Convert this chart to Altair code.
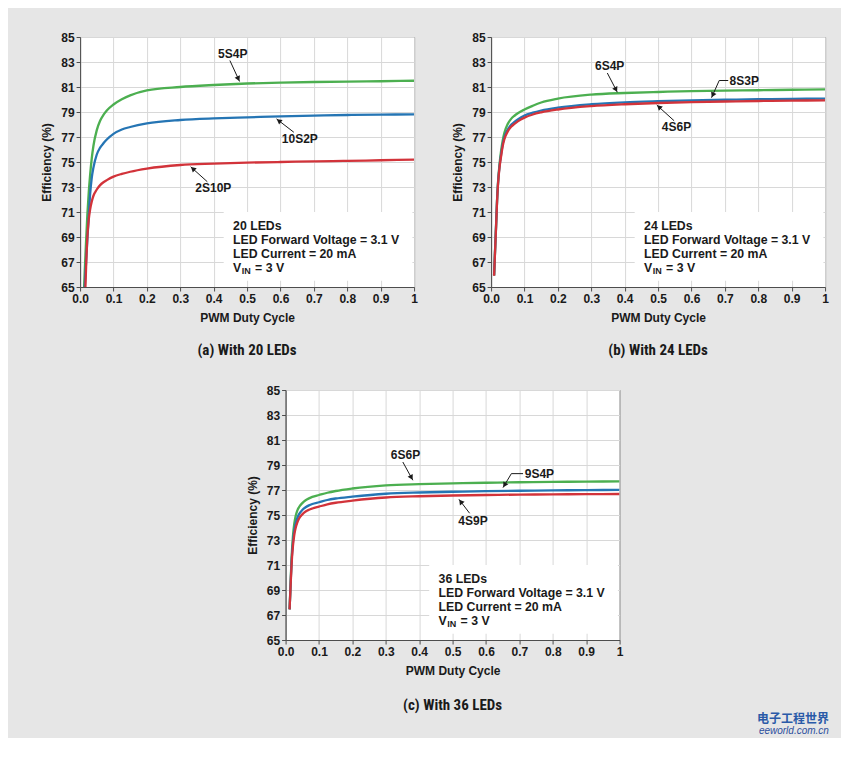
import math
import altair as alt
import pandas as pd

# ---------------- data ----------------
A_D = [0.012, 0.014, 0.016, 0.018, 0.022, 0.026, 0.03, 0.035, 0.04, 0.05, 0.06, 0.07,
       0.08, 0.1, 0.125, 0.15, 0.2, 0.3, 0.4, 0.5, 0.6, 0.7, 0.8, 0.9, 1.0]
A_5S4P = [65.0, 66.3, 67.5, 68.7, 70.9, 72.6, 73.95, 75.3, 76.3, 77.55, 78.3, 78.77,
          79.12, 79.6, 80.02, 80.33, 80.73, 81.0, 81.16, 81.28, 81.35, 81.4, 81.43, 81.46, 81.5]
A_10S2P = [None, 65.0, 66.0, 67.0, 68.9, 70.65, 72.4, 73.75, 74.55, 75.6, 76.15, 76.5,
           76.8, 77.25, 77.6, 77.8, 78.09, 78.36, 78.49, 78.57, 78.65, 78.71, 78.76, 78.79, 78.81]
A_2S10P = [None, None, 65.0, 66.6, 69.1, 70.4, 71.2, 71.85, 72.3, 72.8, 73.15, 73.38,
           73.55, 73.83, 74.05, 74.22, 74.47, 74.76, 74.87, 74.95, 75.0, 75.05, 75.09, 75.14, 75.19]

B_D = [0.009, 0.012, 0.015, 0.018, 0.021, 0.025, 0.03, 0.035, 0.04, 0.05, 0.06, 0.07,
       0.08, 0.1, 0.125, 0.15, 0.2, 0.3, 0.4, 0.5, 0.6, 0.7, 0.8, 0.9, 1.0]
B_6S4P = [65.93, 68.0, 69.95, 72.0, 73.45, 74.75, 75.9, 76.75, 77.35, 78.05, 78.45, 78.7,
          78.9, 79.2, 79.5, 79.76, 80.07, 80.39, 80.52, 80.6, 80.67, 80.71, 80.74, 80.78, 80.81]
B_8S3P = [65.93, 68.0, 69.95, 72.0, 73.4, 74.6, 75.6, 76.45, 77.0, 77.6, 77.97, 78.2,
          78.4, 78.72, 78.95, 79.12, 79.35, 79.62, 79.77, 79.86, 79.93, 79.98, 80.02, 80.05, 80.07]
B_4S6P = [65.9, 67.9, 69.85, 71.9, 73.3, 74.5, 75.45, 76.3, 76.85, 77.45, 77.82, 78.05,
          78.25, 78.55, 78.8, 78.97, 79.2, 79.47, 79.62, 79.72, 79.79, 79.84, 79.88, 79.91, 79.93]

C_D = [0.012, 0.015, 0.018, 0.022, 0.026, 0.03, 0.035, 0.04, 0.05, 0.06, 0.07, 0.08,
       0.1, 0.125, 0.15, 0.2, 0.3, 0.4, 0.5, 0.6, 0.7, 0.8, 0.9, 1.0]
C_6S6P = [67.45, 69.6, 71.6, 73.3, 74.3, 74.9, 75.35, 75.62, 75.95, 76.18, 76.33, 76.45,
          76.6, 76.78, 76.92, 77.12, 77.37, 77.47, 77.53, 77.58, 77.62, 77.65, 77.67, 77.69]
C_9S4P = [67.45, 69.45, 71.3, 72.8, 73.75, 74.3, 74.75, 75.05, 75.4, 75.62, 75.77, 75.88,
          76.02, 76.2, 76.32, 76.47, 76.7, 76.8, 76.86, 76.91, 76.94, 76.97, 76.99, 77.01]
C_4S9P = [67.45, 69.3, 71.05, 72.5, 73.4, 73.95, 74.4, 74.7, 75.05, 75.28, 75.42, 75.52,
          75.67, 75.85, 75.98, 76.15, 76.4, 76.5, 76.56, 76.6, 76.63, 76.65, 76.67, 76.68]

# annotation labels (data coordinates)
A_LABELS = ["5S4P", "10S2P", "2S10P"]
A_LABEL_X = [0.457, 0.658, 0.399]
A_LABEL_Y = [83.66, 76.84, 72.89]
A_ARROW_FROM = [(0.4485, 83.12), (0.640, 77.38), (0.381, 73.42)]
A_ARROW_TO = [(0.4775, 81.44), (0.588, 78.45), (0.331, 74.62)]
A_ALIGN = ["center", "center", "center"]
A_DASH = []

B_LABELS = ["6S4P", "8S3P", "4S6P"]
B_LABEL_X = [0.355, 0.714, 0.555]
B_LABEL_Y = [82.7, 81.52, 77.78]
B_ARROW_FROM = [(0.348, 82.12), (0.683, 81.52), (0.548, 78.3)]
B_ARROW_TO = [(0.378, 80.58), (0.660, 80.14), (0.496, 79.56)]
B_ALIGN = ["center", "left", "center"]
B_DASH = [((0.683, 81.52), (0.710, 81.52))]

C_LABELS = ["6S6P", "9S4P", "4S9P"]
C_LABEL_X = [0.359, 0.716, 0.561]
C_LABEL_Y = [79.83, 78.31, 74.52]
C_ARROW_FROM = [(0.351, 79.24), (0.676, 78.31), (0.551, 75.14)]
C_ARROW_TO = [(0.381, 77.78), (0.651, 77.19), (0.519, 76.26)]
C_ALIGN = ["center", "left", "center"]
C_DASH = [((0.676, 78.31), (0.711, 78.31))]

INFO_X = 0.458
INFO_LINES = ["LED Forward Voltage = 3.1 V", "LED Current = 20 mA"]
INFO_Y = [69.85, 68.75, 67.63, 66.55]
BOX = (0.43, 0.995, 65.5, 71.0)

X_TICKS = [0.0, 0.1, 0.2, 0.3, 0.4, 0.5, 0.6, 0.7, 0.8, 0.9, 1.0]
Y_TICKS = [65, 67, 69, 71, 73, 75, 77, 79, 81, 83, 85]

# ---------------- styling ----------------
FONT = "Liberation Sans, Arial, Helvetica, sans-serif"
CAP_FONT = "Roboto Condensed, Liberation Sans Narrow, Arial Narrow, Liberation Sans, sans-serif"
GREEN, BLUE, RED = "#4caf50", "#2575b4", "#d2333a"
INK = "#1a1a1a"
W, H = 334, 250
INFO_SIZE = 12.3

XSCALE = alt.Scale(domain=[0, 1], nice=False, zero=False)
YSCALE = alt.Scale(domain=[65, 85], nice=False, zero=False)
XAXIS = alt.Axis(values=X_TICKS, title="PWM Duty Cycle", labelFlush=False, labelOverlap=False,
                 labelExpr="datum.value == 1 ? '1' : format(datum.value, '.1f')")
YAXIS = alt.Axis(values=Y_TICKS, title="Efficiency (%)", labelOverlap=False)


def X(f):
    return alt.X(f"{f}:Q", scale=XSCALE, axis=XAXIS)


def Y(f):
    return alt.Y(f"{f}:Q", scale=YSCALE, axis=YAXIS)


def panel(n_leds, D, series, labels, lx, ly, afrom, ato, aligns, dashes, caption, cap_offset):
    layers = []
    # white box behind info text
    box = pd.DataFrame([{"bx0": BOX[0], "bx1": BOX[1], "by0": BOX[2], "by1": BOX[3]}])
    layers.append(alt.Chart(box).mark_rect(color="white").encode(
        x=X("bx0"), x2="bx1", y=Y("by0"), y2="by1"))
    # curves
    for name, vals, col in series:
        df = pd.DataFrame({"D": D, "v": vals}).dropna()
        layers.append(alt.Chart(df).mark_line(color=col, strokeWidth=2.3,
                                              interpolate="monotone", clip=True)
                      .encode(x=X("D"), y=Y("v")))
    # arrows
    segs = [{"x0": a[0], "y0": a[1], "x1": b[0], "y1": b[1]} for a, b in zip(afrom, ato)]
    segs += [{"x0": a[0], "y0": a[1], "x1": b[0], "y1": b[1]} for a, b in dashes]
    layers.append(alt.Chart(pd.DataFrame(segs)).mark_rule(color=INK, strokeWidth=1).encode(
        x=X("x0"), y=Y("y0"), x2="x1", y2="y1"))
    heads = []
    for a, b in zip(afrom, ato):
        dx = (b[0] - a[0]) * W
        dy = -(b[1] - a[1]) * (H / 20.0)
        L = math.hypot(dx, dy)
        ang = math.degrees(math.atan2(dx, -dy)) % 360
        back = 3.0
        hx = b[0] - (dx / L) * back / W
        hy = b[1] + (dy / L) * back / (H / 20.0)
        heads.append({"hx": hx, "hy": hy, "ang": ang})
    layers.append(alt.Chart(pd.DataFrame(heads)).mark_point(
        shape="triangle-up", filled=True, size=34, color=INK, opacity=1, strokeWidth=0).encode(
        x=X("hx"), y=Y("hy"), angle=alt.Angle("ang:Q", scale=None)))
    # series labels
    for align in ("center", "left"):
        rows = [{"t": t, "lx": x, "ly": y} for t, x, y, al in zip(labels, lx, ly, aligns) if al == align]
        if rows:
            layers.append(alt.Chart(pd.DataFrame(rows)).mark_text(
                align=align, baseline="middle", font=FONT, fontSize=12, fontWeight="bold",
                color=INK).encode(x=X("lx"), y=Y("ly"), text="t:N"))
    # info text
    info = pd.DataFrame({"t": [f"{n_leds} LEDs"] + INFO_LINES,
                         "ix": [INFO_X] * 3, "iy": INFO_Y[:3]})
    layers.append(alt.Chart(info).mark_text(
        align="left", baseline="middle", font=FONT, fontSize=INFO_SIZE, fontWeight="bold",
        color=INK).encode(x=X("ix"), y=Y("iy"), text="t:N"))
    vin = pd.DataFrame({"ix": [INFO_X], "iy": [INFO_Y[3]]})
    base = alt.Chart(vin)
    layers.append(base.mark_text(text="V", align="left", baseline="middle", font=FONT,
                                 fontSize=INFO_SIZE, fontWeight="bold", color=INK)
                  .encode(x=X("ix"), y=Y("iy")))
    layers.append(base.mark_text(text="IN", align="left", baseline="middle", font=FONT,
                                 fontSize=9, fontWeight="bold", color=INK, dx=8.7, dy=3)
                  .encode(x=X("ix"), y=Y("iy")))
    layers.append(base.mark_text(text="= 3 V", align="left", baseline="middle", font=FONT,
                                 fontSize=INFO_SIZE, fontWeight="bold", color=INK, dx=22)
                  .encode(x=X("ix"), y=Y("iy")))
    return alt.layer(*layers).properties(
        width=W, height=H,
        title=alt.TitleParams(caption, orient="bottom", font=CAP_FONT, fontSize=15,
                              fontWeight="bold", color=INK, offset=cap_offset))


A = panel(20, A_D, [("5S4P", A_5S4P, GREEN), ("10S2P", A_10S2P, BLUE), ("2S10P", A_2S10P, RED)],
          A_LABELS, A_LABEL_X, A_LABEL_Y, A_ARROW_FROM, A_ARROW_TO, A_ALIGN, A_DASH,
          "(a) With 20 LEDs", 20)
B = panel(24, B_D, [("6S4P", B_6S4P, GREEN), ("8S3P", B_8S3P, BLUE), ("4S6P", B_4S6P, RED)],
          B_LABELS, B_LABEL_X, B_LABEL_Y, B_ARROW_FROM, B_ARROW_TO, B_ALIGN, B_DASH,
          "(b) With 24 LEDs", 20)
C = panel(36, C_D, [("6S6P", C_6S6P, GREEN), ("9S4P", C_9S4P, BLUE), ("4S9P", C_4S9P, RED)],
          C_LABELS, C_LABEL_X, C_LABEL_Y, C_ARROW_FROM, C_ARROW_TO, C_ALIGN, C_DASH,
          "(c) With 36 LEDs", 22)

top = alt.hconcat(A, B, spacing=33)
chart = alt.vconcat(top, C, spacing=24, center=True).properties(
    padding={"left": 32, "top": 22, "right": 12, "bottom": 2},
    background="#e6e6e6",
    title=alt.TitleParams("电子工程世界", subtitle="eeworld.com.cn", orient="bottom", anchor="end",
                          font="Noto Sans CJK SC", fontSize=12, fontWeight="bold", color="#2a5aa8",
                          subtitleFont=FONT, subtitleFontSize=10, subtitleFontStyle="italic",
                          subtitleColor="#2c4f9e", offset=0, subtitlePadding=0),
).configure_view(
    fill="white", stroke="#4d4d4d", strokeWidth=1
).configure_axis(
    labelFont=FONT, labelFontSize=12, labelFontWeight="bold", labelColor=INK,
    titleFont=FONT, titleFontSize=12, titleFontWeight="bold", titleColor=INK,
    gridColor="#d8d8d8", gridWidth=1, domainColor="#4d4d4d", tickColor="#4d4d4d",
    tickSize=4, labelPadding=2
).configure_axisY(titlePadding=7).configure_axisX(titlePadding=8)

chart.save("out.html", embed_options={"renderer": "svg", "actions": False})
